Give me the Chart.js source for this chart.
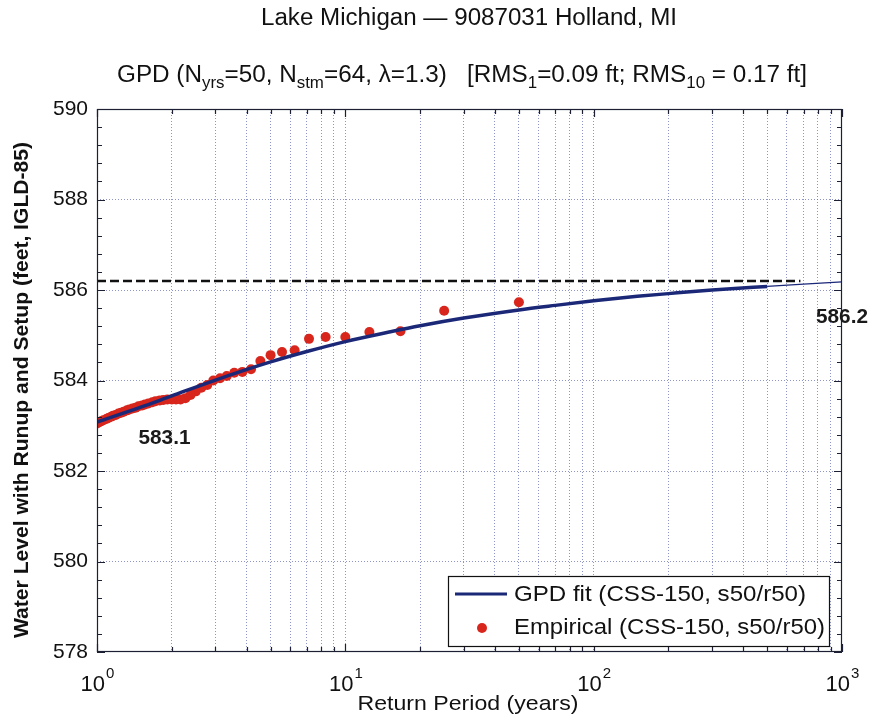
<!DOCTYPE html>
<html>
<head>
<meta charset="utf-8">
<script src="https://cdn.jsdelivr.net/npm/chart.js@4.4.1/dist/chart.umd.min.js"></script>
<style>
  html,body{margin:0;padding:0;background:#fff;}
  #wrap{width:869px;height:717px;position:relative;}
</style>
</head>
<body>
<div id="wrap"><canvas id="c" width="869" height="717"></canvas></div>
<script>
// ---- data ----
const fitPeriod = [1, 1.5, 2, 3, 5, 7, 10, 15, 20, 30, 50, 70, 100, 150, 200, 300, 500, 700, 1000];
const fitLevel  = [583.08, 583.41, 583.66, 584.01, 584.41, 584.64, 584.86, 585.07, 585.21, 585.38, 585.56, 585.66, 585.76, 585.86, 585.92, 586.00, 586.08, 586.13, 586.18];

const empiricalPeriod = [50, 25, 16.67, 12.5, 10, 8.33, 7.14, 6.25, 5.56, 5.0, 4.55, 4.17, 3.85, 3.57, 3.33, 3.13, 2.94, 2.78, 2.63, 2.5, 2.38, 2.27, 2.17, 2.08, 2.0, 1.92, 1.85, 1.79, 1.72, 1.67, 1.61, 1.56, 1.52, 1.47, 1.43, 1.39, 1.35, 1.32, 1.28, 1.25, 1.22, 1.19, 1.16, 1.14, 1.11, 1.09, 1.06, 1.04, 1.02, 1.0];
const empiricalLevel  = [585.73, 585.54, 585.09, 585.07, 584.96, 584.96, 584.92, 584.67, 584.63, 584.56, 584.43, 584.25, 584.19, 584.17, 584.10, 584.05, 584.00, 583.90, 583.84, 583.76, 583.68, 583.61, 583.58, 583.58, 583.58, 583.58, 583.57, 583.56, 583.54, 583.52, 583.49, 583.47, 583.45, 583.43, 583.40, 583.38, 583.36, 583.34, 583.31, 583.29, 583.27, 583.24, 583.22, 583.20, 583.17, 583.15, 583.12, 583.10, 583.08, 583.05];

const dashPeriod = [1, 680];
const dashLevel  = [586.2, 586.2];

const yTicks = [578, 580, 582, 584, 586, 588, 590];
const xDecades = [1, 10, 100, 1000];
const xTickExponents = ['0', '1', '2', '3'];
const annotations = [
  {text: '583.1', period: 1.87, level: 582.72},
  {text: '586.2', period: 1000, level: 585.4}
];
const titleLine1 = 'Lake Michigan \u2014 9087031 Holland, MI';
const titleLine2 = [
  {t: 'GPD (N'}, {t: 'yrs', sub: true}, {t: '=50, N'}, {t: 'stm', sub: true}, {t: '=64, \u03bb=1.3)   [RMS'},
  {t: '1', sub: true}, {t: '=0.09 ft; RMS'}, {t: '10', sub: true}, {t: ' = 0.17 ft]'}
];
const yTitle = 'Water Level with Runup and Setup (feet, IGLD-85)';
const xTitle = 'Return Period (years)';
const legendLabels = ['GPD fit (CSS-150, s50/r50)', 'Empirical (CSS-150, s50/r50)'];

// ---- styles ----
const FONT = "'Liberation Sans', Arial, sans-serif";
const blue = '#1b2878';
const red = '#d8261d';
const gridColor = 'rgba(95,105,175,0.7)';
const axisColor = '#1d1f33';

const xGrid = [];
[1, 10, 100].forEach(d => { for (let m = 1; m <= 9; m++) xGrid.push(d * m); });
xGrid.push(1000);

function fitText(ctx, text, x, y, width, font, align) {
  ctx.save();
  ctx.font = font;
  const w = ctx.measureText(text).width;
  const s = width ? width / w : 1;
  ctx.translate(x, y);
  ctx.scale(s, 1);
  ctx.textBaseline = 'middle';
  ctx.textAlign = 'left';
  const off = align === 'center' ? -w / 2 : (align === 'right' ? -w : 0);
  ctx.fillText(text, off, 0);
  ctx.restore();
}

const deco = {
  id: 'deco',
  afterDraw(chart) {
    const {ctx, chartArea: a, scales: {x, y}} = chart;
    ctx.save();
    ctx.fillStyle = '#111';

    // titles
    fitText(ctx, titleLine1, 469, 19, 416, '23px ' + FONT, 'center');
    {
      const big = '23px ' + FONT, small = '16px ' + FONT;
      let total = 0;
      const ws = titleLine2.map(s => { ctx.font = s.sub ? small : big; const w = ctx.measureText(s.t).width; total += w; return w; });
      const target = 690;
      const sc = target / total;
      ctx.save();
      ctx.translate(117, 0);
      ctx.scale(sc, 1);
      let cx = 0;
      ctx.textBaseline = 'alphabetic';
      ctx.textAlign = 'left';
      titleLine2.forEach((s, i) => {
        ctx.font = s.sub ? small : big;
        ctx.fillText(s.t, cx, s.sub ? 88 : 82);
        cx += ws[i];
      });
      ctx.restore();
    }

    // box
    ctx.strokeStyle = axisColor;
    ctx.lineWidth = 1.2;
    ctx.strokeRect(a.left + 0.5, a.top + 0.5, a.right - a.left - 1, a.bottom - a.top - 1);

    // inner ticks y
    ctx.beginPath();
    for (let k = 0; k <= 30; k++) {
      const v = 578 + k * 0.4;
      const py = Math.round(y.getPixelForValue(v)) + 0.5;
      const len = (k % 5 === 0) ? 8 : 5;
      ctx.moveTo(a.left, py); ctx.lineTo(a.left + len, py);
      ctx.moveTo(a.right, py); ctx.lineTo(a.right - len, py);
    }
    // inner ticks x
    xGrid.forEach(v => {
      const px = Math.round(x.getPixelForValue(v)) + 0.5;
      const len = xDecades.includes(v) ? 8 : 5;
      ctx.moveTo(px, a.bottom); ctx.lineTo(px, a.bottom - len);
      ctx.moveTo(px, a.top); ctx.lineTo(px, a.top + len);
    });
    ctx.stroke();

    // x tick labels 10^n
    ctx.fillStyle = '#111';
    xDecades.forEach((v, i) => {
      const px = x.getPixelForValue(v);
      ctx.font = '22px ' + FONT;
      const w10 = ctx.measureText('10').width;
      ctx.font = '15px ' + FONT;
      const we = ctx.measureText(xTickExponents[i]).width;
      const start = px - (w10 + we) / 2;
      ctx.textBaseline = 'alphabetic'; ctx.textAlign = 'left';
      ctx.font = '22px ' + FONT;
      ctx.fillText('10', start, 691);
      ctx.font = '15px ' + FONT;
      ctx.fillText(xTickExponents[i], start + w10 + 1, 678);
    });

    // axis titles
    fitText(ctx, xTitle, 468, 704, 221, '21px ' + FONT, 'center');
    ctx.save();
    ctx.translate(22, 390);
    ctx.rotate(-Math.PI / 2);
    fitText(ctx, yTitle, 0, 0, 496, 'bold 20px ' + FONT, 'center');
    ctx.restore();

    // annotations
    ctx.fillStyle = '#1a1a1a';
    annotations.forEach(an => {
      const px = x.getPixelForValue(an.period);
      const py = y.getPixelForValue(an.level);
      fitText(ctx, an.text, px, py, 52, 'bold 20px ' + FONT, 'center');
    });

    // legend
    const lx = 448, ly = 576, lw = 381, lh = 70;
    ctx.fillStyle = '#fff';
    ctx.fillRect(lx, ly, lw, lh);
    ctx.strokeStyle = '#111';
    ctx.lineWidth = 1.2;
    ctx.strokeRect(lx + 0.5, ly + 0.5, lw, lh);
    ctx.strokeStyle = blue; ctx.lineWidth = 3;
    ctx.beginPath(); ctx.moveTo(455, 594); ctx.lineTo(507, 594); ctx.stroke();
    ctx.fillStyle = red;
    ctx.beginPath(); ctx.arc(482, 628, 5, 0, Math.PI * 2); ctx.fill();
    ctx.fillStyle = '#111';
    fitText(ctx, legendLabels[0], 514, 595, 292, '22px ' + FONT, 'left');
    fitText(ctx, legendLabels[1], 514, 628, 311, '22px ' + FONT, 'left');

    ctx.restore();
  }
};

new Chart(document.getElementById('c'), {
  type: 'scatter',
  data: {
    datasets: [
      {
        type: 'line',
        label: legendLabels[0],
        data: fitPeriod.map((p, i) => ({x: p, y: fitLevel[i]})),
        borderColor: blue,
        borderWidth: 3.5,
        pointRadius: 0,
        cubicInterpolationMode: 'monotone',
        segment: { borderWidth: c => (c.p0.parsed.x >= 500 ? 1.2 : 3.5) },
        order: 0
      },
      {
        label: legendLabels[1],
        data: empiricalPeriod.map((p, i) => ({x: p, y: empiricalLevel[i]})),
        backgroundColor: red,
        borderWidth: 0,
        pointRadius: 5,
        order: 1
      },
      {
        type: 'line',
        label: 'bound',
        data: dashPeriod.map((p, i) => ({x: p, y: dashLevel[i]})),
        borderColor: '#111',
        borderWidth: 2.6,
        borderDash: [9, 4],
        pointRadius: 0,
        order: 2
      }
    ]
  },
  options: {
    responsive: false,
    animation: false,
    devicePixelRatio: 1,
    layout: { padding: { top: 109, right: 27, left: 0, bottom: 0 } },
    plugins: { legend: { display: false }, tooltip: { enabled: false }, title: { display: false } },
    scales: {
      x: {
        type: 'logarithmic',
        min: 1, max: 1000,
        afterBuildTicks: s => { s.ticks = xGrid.map(v => ({value: v})); },
        afterFit: s => { s.height = 65; },
        ticks: { display: false },
        border: { display: false, dash: [1, 2] },
        grid: {
          drawTicks: false,
          color: c => (c.tick && (c.tick.value === 1 || c.tick.value === 1000)) ? 'rgba(0,0,0,0)' : gridColor,
          lineWidth: 1
        }
      },
      y: {
        type: 'linear',
        min: 578, max: 590,
        afterBuildTicks: s => { s.ticks = yTicks.map(v => ({value: v})); },
        afterFit: s => { s.width = 97; },
        ticks: { font: { family: FONT, size: 21 }, color: '#111', padding: 9 },
        border: { display: false, dash: [1, 2] },
        grid: {
          drawTicks: false,
          color: c => (c.tick && (c.tick.value === 578 || c.tick.value === 590)) ? 'rgba(0,0,0,0)' : gridColor,
          lineWidth: 1
        }
      }
    }
  },
  plugins: [deco]
});
</script>
</body>
</html>
